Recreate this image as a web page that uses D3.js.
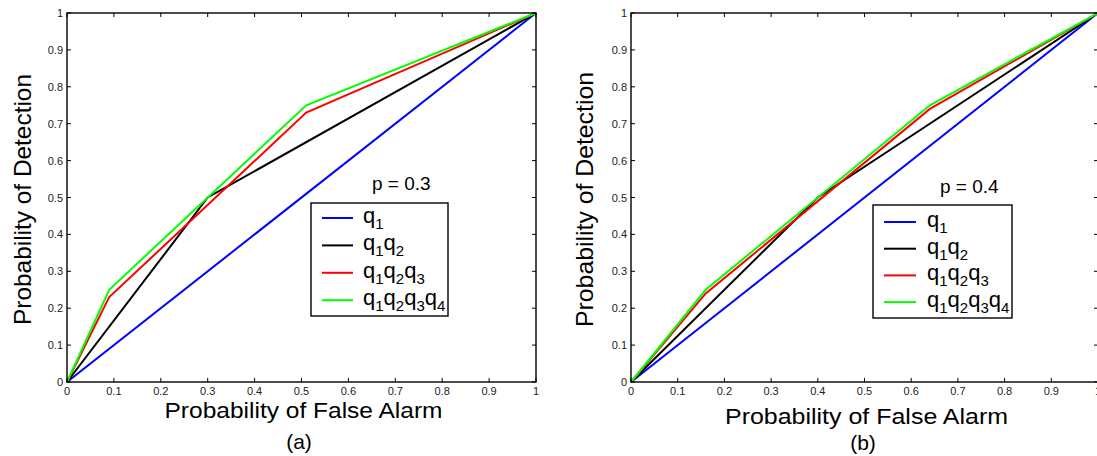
<!DOCTYPE html>
<html lang="en">

<head>
  <meta charset="UTF-8">
  <script src="https://d3js.org/d3.v7.min.js"></script>
  <title>ROC curves</title>
  <style>
    body {
      margin: 0;
      background: white;
      font-family: 'Liberation Sans', Arial, sans-serif;
    }

    .tick-label {
      font-size: 11px;
      fill: #222;
    }
  </style>
</head>

<body>
  <svg id='chart' width='1097' height='456'></svg>

  <script>
    // ---- data ----
    const xTicks = [0, 0.1, 0.2, 0.3, 0.4, 0.5, 0.6, 0.7, 0.8, 0.9, 1];
    const yTicks = [0, 0.1, 0.2, 0.3, 0.4, 0.5, 0.6, 0.7, 0.8, 0.9, 1];
    const seriesNames = [['q', '1'], ['q', '1', 'q', '2'], ['q', '1', 'q', '2', 'q', '3'], ['q', '1', 'q', '2', 'q', '3', 'q', '4']];

    // panel (a), p = 0.3 : [false alarm, detection]
    const a_q1 = [[0, 0], [1, 1]];
    const a_q1q2 = [[0, 0], [0.3, 0.5], [1, 1]];
    const a_q1q2q3 = [[0, 0], [0.09, 0.23], [0.51, 0.73], [1, 1]];
    const a_q1q2q3q4 = [[0, 0], [0.09, 0.25], [0.51, 0.75], [1, 1]];

    // panel (b), p = 0.4
    const b_q1 = [[0, 0], [1, 1]];
    const b_q1q2 = [[0, 0], [0.4, 0.5], [1, 1]];
    const b_q1q2q3 = [[0, 0], [0.16, 0.24], [0.64, 0.74], [1, 1]];
    const b_q1q2q3q4 = [[0, 0], [0.16, 0.25], [0.64, 0.75], [1, 1]];

    const colors = ['#0000ff', '#000000', '#ff0000', '#00ff00'];

    const svg = d3.select('#chart');

    const panels = [
      {
        left: 67, right: 536, top: 13, bottom: 382,
        series: [a_q1, a_q1q2, a_q1q2q3, a_q1q2q3q4],
        pText: 'p = 0.3', pX: 372, pY: 190,
        legend: { x: 311, y: 203, w: 137, h: 113, lineX: 322, lineW: 31, textX: 363, rowY: 218, rowStep: 27.4 },
        xlabelY: 418, xlabelW: 278, ylabelX: 31, ylabelLen: 251,
        tag: '(a)', tagX: 299, tagY: 449
      },
      {
        left: 631, right: 1098, top: 13, bottom: 382,
        series: [b_q1, b_q1q2, b_q1q2q3, b_q1q2q3q4],
        pText: 'p = 0.4', pX: 940, pY: 193,
        legend: { x: 873, y: 205, w: 139, h: 113, lineX: 884, lineW: 32, textX: 927, rowY: 222, rowStep: 26.7 },
        xlabelY: 424, xlabelW: 283, ylabelX: 593, ylabelLen: 255,
        tag: '(b)', tagX: 863, tagY: 450
      }
    ];

    panels.forEach(p => {
      const x = d3.scaleLinear().domain([0, 1]).range([p.left, p.right]);
      const y = d3.scaleLinear().domain([0, 1]).range([p.bottom, p.top]);
      const g = svg.append('g');

      // data lines
      const line = d3.line().x(d => x(d[0])).y(d => y(d[1]));
      p.series.forEach((s, i) => {
        g.append('path')
          .datum(s)
          .attr('d', line)
          .attr('fill', 'none')
          .attr('stroke', colors[i])
          .attr('stroke-width', 2);
      });

      // box + inward ticks on all four sides
      const tickLen = 4;
      g.append('rect')
        .attr('x', p.left).attr('y', p.top)
        .attr('width', p.right - p.left).attr('height', p.bottom - p.top)
        .attr('fill', 'none').attr('stroke', 'black').attr('stroke-width', 1.4);

      xTicks.forEach(t => {
        g.append('line').attr('x1', x(t)).attr('x2', x(t))
          .attr('y1', p.bottom).attr('y2', p.bottom - tickLen)
          .attr('stroke', 'black').attr('stroke-width', 1);
        g.append('line').attr('x1', x(t)).attr('x2', x(t))
          .attr('y1', p.top).attr('y2', p.top + tickLen)
          .attr('stroke', 'black').attr('stroke-width', 1);
        g.append('text').attr('class', 'tick-label')
          .attr('x', x(t)).attr('y', p.bottom + 13)
          .attr('text-anchor', 'middle')
          .text(t);
      });

      yTicks.forEach(t => {
        g.append('line').attr('x1', p.left).attr('x2', p.left + tickLen)
          .attr('y1', y(t)).attr('y2', y(t))
          .attr('stroke', 'black').attr('stroke-width', 1);
        g.append('line').attr('x1', p.right).attr('x2', p.right - tickLen)
          .attr('y1', y(t)).attr('y2', y(t))
          .attr('stroke', 'black').attr('stroke-width', 1);
        g.append('text').attr('class', 'tick-label')
          .attr('x', p.left - 4).attr('y', y(t) + 4)
          .attr('text-anchor', 'end')
          .text(t);
      });

      // axis labels
      g.append('text')
        .attr('x', (p.left + p.right) / 2 + 2).attr('y', p.xlabelY)
        .attr('text-anchor', 'middle')
        .attr('font-size', 22)
        .attr('textLength', p.xlabelW)
        .attr('lengthAdjust', 'spacingAndGlyphs')
        .text('Probability of False Alarm');

      g.append('text')
        .attr('transform', 'translate(' + p.ylabelX + ',' + ((p.top + p.bottom) / 2 + 2) + ') rotate(-90)')
        .attr('text-anchor', 'middle')
        .attr('font-size', 24)
        .attr('textLength', p.ylabelLen)
        .attr('lengthAdjust', 'spacingAndGlyphs')
        .text('Probability of Detection');

      g.append('text')
        .attr('x', p.tagX).attr('y', p.tagY)
        .attr('text-anchor', 'middle')
        .attr('font-size', 21)
        .text(p.tag);

      g.append('text')
        .attr('x', p.pX).attr('y', p.pY)
        .attr('font-size', 19)
        .text(p.pText);

      // legend
      const L = p.legend;
      g.append('rect')
        .attr('x', L.x).attr('y', L.y).attr('width', L.w).attr('height', L.h)
        .attr('fill', 'white').attr('stroke', 'black').attr('stroke-width', 1.4);

      seriesNames.forEach((name, i) => {
        const ry = L.rowY + i * L.rowStep;
        g.append('line')
          .attr('x1', L.lineX).attr('x2', L.lineX + L.lineW)
          .attr('y1', ry).attr('y2', ry)
          .attr('stroke', colors[i]).attr('stroke-width', 2);
        const txt = g.append('text')
          .attr('x', L.textX).attr('y', ry + 5)
          .attr('font-size', 22);
        name.forEach((part, k) => {
          if (k % 2 === 0) {
            txt.append('tspan').attr('dy', k === 0 ? 0 : -6).text(part);
          } else {
            txt.append('tspan').attr('dy', 6).attr('font-size', 15).text(part);
          }
        });
      });
    });
  </script>
</body>

</html>
